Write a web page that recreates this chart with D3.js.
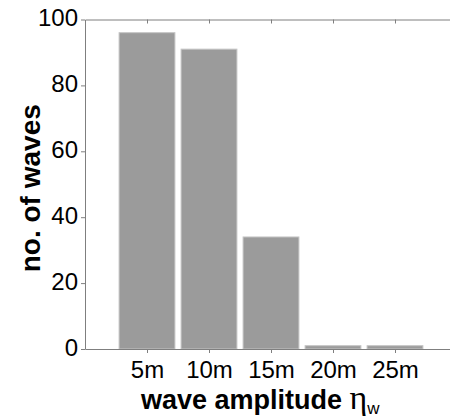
<!DOCTYPE html>
<html>
<head>
<meta charset="utf-8">
<script src="https://cdn.jsdelivr.net/npm/d3@7"></script>
<style>
  html, body { margin: 0; padding: 0; background: #fff; }
  svg { display: block; font-family: "Liberation Sans", Arial, sans-serif; }
</style>
</head>
<body>
<svg id="chart" width="450" height="418"></svg>
<script>
// Wave amplitude classes (metres) and how many waves fell in each
const amplitudes = [5, 10, 15, 20, 25];
const waveCounts = [96, 91, 34, 1, 1];
const yTicks = [0, 20, 40, 60, 80, 100];

const svg = d3.select("#chart");
const margin = { left: 85, top: 19.5, bottom: 349 };

const x = d3.scaleLinear().domain([0, 30]).range([margin.left, margin.left + 6 * 62]);
const y = d3.scaleLinear().domain([0, 100]).range([margin.bottom, margin.top]);
const barWidth = (x(5) - x(0)) * 0.9;

const data = amplitudes.map((a, i) => ({ a, n: waveCounts[i] }));

// bars
svg.append("g").selectAll("rect").data(data).join("rect")
  .attr("x", d => x(d.a) - barWidth / 2)
  .attr("y", d => y(d.n))
  .attr("width", barWidth)
  .attr("height", d => y(0) - y(d.n))
  .attr("fill", "#9b9b9b")
  .attr("stroke", "#c4c4c4")
  .attr("stroke-width", 1);

const axisColor = "#7f7f7f";
function styleAxis(g) {
  g.selectAll("path, line").attr("stroke", axisColor);
  g.selectAll("text").attr("fill", "#000").attr("font-family", "'Liberation Sans', Arial, sans-serif");
}

// bottom axis
svg.append("g")
  .attr("transform", `translate(0,${y(0)})`)
  .call(d3.axisBottom(x).tickValues(amplitudes).tickFormat(d => d + "m")
    .tickSize(4).tickSizeOuter(0).tickPadding(8))
  .call(styleAxis)
  .call(g => g.selectAll("text").attr("font-size", 24));

// top frame with inward ticks
svg.append("g")
  .attr("transform", `translate(0,${y(100)})`)
  .call(d3.axisBottom(x).tickValues(amplitudes).tickFormat("")
    .tickSize(4).tickSizeOuter(0))
  .call(styleAxis);

// left axis
svg.append("g")
  .attr("transform", `translate(${margin.left},0)`)
  .call(d3.axisLeft(y).tickValues(yTicks).tickSize(4).tickSizeOuter(0).tickPadding(3))
  .call(styleAxis)
  .call(g => g.selectAll("text").attr("font-size", 24).attr("dy", "0.25em"));

// axis titles
svg.append("text")
  .attr("transform", `translate(40,${(margin.top + margin.bottom) / 2 + 4}) rotate(-90)`)
  .attr("text-anchor", "middle")
  .attr("font-size", 28)
  .attr("font-weight", "bold")
  .text("no. of waves");

const xt = svg.append("text")
  .attr("x", 141)
  .attr("y", 409)
  .attr("font-size", 27)
  .attr("font-weight", "bold");
xt.append("tspan").text("wave amplitude ");
xt.append("tspan").attr("font-family", "'Liberation Serif', 'DejaVu Serif', serif")
  .attr("font-weight", "normal").attr("font-size", 34).text("η");
xt.append("tspan").attr("font-weight", "normal").attr("font-size", 17)
  .attr("dy", 5).text("w");
</script>
</body>
</html>
